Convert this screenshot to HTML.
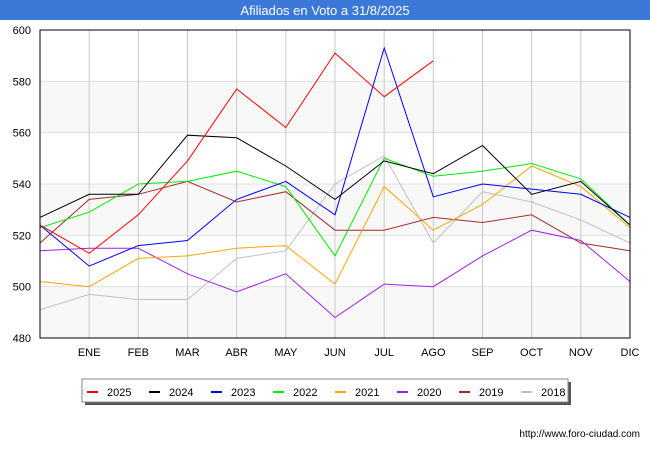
<!DOCTYPE html>
<html><head><meta charset="utf-8"><style>
body{margin:0;width:650px;height:450px;background:#fff;font-family:"Liberation Sans",sans-serif;overflow:hidden}
</style></head><body>
<svg width="650" height="450" xmlns="http://www.w3.org/2000/svg">
<rect x="0" y="0" width="650" height="20" fill="#3b78d8"/>
<text x="325" y="15" text-anchor="middle" fill="#fff" font-size="13">Afiliados en Voto a 31/8/2025</text>
<g id="plot"></g>
<g id="legend"></g>
<text x="640" y="437" text-anchor="end" font-size="10" fill="#000">http://www.foro-ciudad.com</text>
</svg>
<script>
const months=["","ENE","FEB","MAR","ABR","MAY","JUN","JUL","AGO","SEP","OCT","NOV","DIC"];
const yTicks=[480,500,520,540,560,580,600];
const seriesNames=["2025","2024","2023","2022","2021","2020","2019","2018"];
const seriesColors=["#ff0000","#000000","#0000ff","#00ee00","#ffa500","#a020f0","#a52a2a","#c0c0c0"];
const s2025=[524,513,528,549,577,562,591,574,588];
const s2024=[527,536,536,559,558,547,534,549,544,555,536,541,524];
const s2023=[524,508,516,518,534,541,528,593,535,540,538,536,527];
const s2022=[523,529,540,541,545,539,512,550,543,545,548,542,524];
const s2021=[502,500,511,512,515,516,501,539,522,532,547,539,523];
const s2020=[514,515,515,505,498,505,488,501,500,512,522,518,502];
const s2019=[517,534,536,541,533,537,522,522,527,525,528,517,514];
const s2018=[491,497,495,495,511,514,540,551,517,537,533,526,517];
const allSeries=[s2025,s2024,s2023,s2022,s2021,s2020,s2019,s2018];
const NS="http://www.w3.org/2000/svg";
const X0=40,X1=630,Y0=30,Y1=338;
const xs=i=>X0+i*(X1-X0)/12;
const ys=v=>Y1-(v-480)*(Y1-Y0)/120;
const plot=document.getElementById('plot');
function mk(t,a,p){const e=document.createElementNS(NS,t);for(const k in a)e.setAttribute(k,a[k]);(p||plot).appendChild(e);return e;}
// bands
for(let i=0;i<yTicks.length-1;i++){if(i%2===0){const r=mk('rect',{x:X0,y:ys(yTicks[i+1]),width:X1-X0,height:ys(yTicks[i])-ys(yTicks[i+1]),fill:'#f8f8f8'});}}
yTicks.forEach(v=>{const l=mk('line',{x1:X0,x2:X1,y1:ys(v),y2:ys(v),stroke:'#e0e0e0'});
const t=mk('text',{x:X0-9,y:ys(v)+4,'text-anchor':'end','font-size':'11',fill:'#000'});t.textContent=v;});
months.forEach((m,i)=>{if(i>0){const l=mk('line',{x1:xs(i),x2:xs(i),y1:Y0,y2:Y1,stroke:'#c8c8c8'});
const t=mk('text',{x:xs(i),y:356,'text-anchor':'middle','font-size':'11',fill:'#000'});t.textContent=m;}});
for(let k=allSeries.length-1;k>=0;k--){const d=allSeries[k].map((v,i)=>(i?'L':'M')+xs(i).toFixed(1)+' '+ys(v).toFixed(1)).join(' ');
const p=mk('path',{d:d,fill:'none',stroke:seriesColors[k],'stroke-width':'1'});}
const fr=mk('rect',{x:X0,y:Y0,width:X1-X0,height:Y1-Y0,fill:'none',stroke:'#000'});
const lg=document.getElementById('legend');
const sh=mk('rect',{x:85,y:382,width:486,height:23,fill:'#555'},lg);
const lb=mk('rect',{x:82,y:379,width:486,height:23,fill:'#fff',stroke:'#888'},lg);
seriesNames.forEach((n,k)=>{const x=87+k*62;const l=mk('line',{x1:x,x2:x+11,y1:392,y2:392,stroke:seriesColors[k],'stroke-width':'2'},lg);
const t=mk('text',{x:x+20,y:396,'font-size':'11',fill:'#000'},lg);t.textContent=n;});
</script>
</body></html>
